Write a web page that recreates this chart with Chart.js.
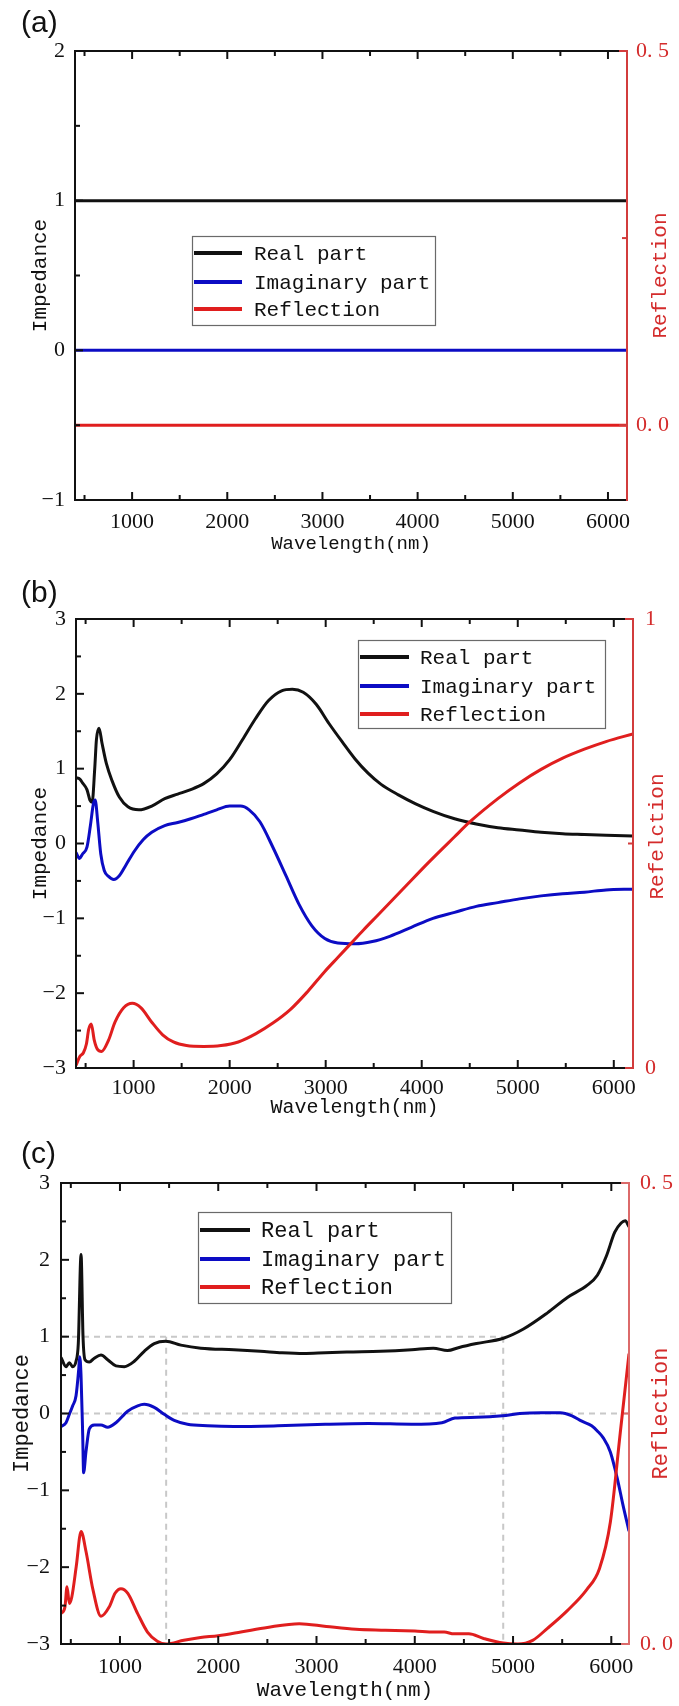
<!DOCTYPE html>
<html>
<head>
<meta charset="utf-8">
<title>Impedance and reflection</title>
<script src="https://cdn.jsdelivr.net/npm/chart.js@4.4.0/dist/chart.umd.min.js"></script>
<style>
    html, body { margin: 0; padding: 0; background: #fff; }
    .panel { position: absolute; left: 0; width: 679px; }
    .panel canvas { display: block; }
</style>
</head>
<body>
<div class="panel" style="top:0px"><canvas id="chartA" width="679" height="565"></canvas></div>
<div class="panel" style="top:565px"><canvas id="chartB" width="679" height="560"></canvas></div>
<div class="panel" style="top:1125px"><canvas id="chartC" width="679" height="581"></canvas></div>
<script>
// shared
const seriesNames = ['Real part', 'Imaginary part', 'Reflection'];
const xTicks = [1000, 2000, 3000, 4000, 5000, 6000];

// panel (a): ideal case, flat lines
const aWave = [400, 6200];
const aReal = [1, 1];
const aImag = [0, 0];
const aRefl = [0, 0];
const aImpTicks = [-1, 0, 1, 2];
const aReflTicks = [0, 0.5];
const aReflLabels = ['0. 0', '0. 5'];

// panel (b)
const bRealWave = [400, 440, 468, 514, 545, 568, 595, 613, 640, 671, 716, 775, 851, 941, 1054, 1189, 1324, 1459, 1595, 1730, 1865, 2000, 2135, 2270, 2405, 2541, 2653, 2766, 2901, 3036, 3171, 3306, 3441, 3577, 3757, 3937, 4117, 4342, 4568, 4793, 5018, 5243, 5468, 5694, 5919, 6200];
const bReal = [0.88, 0.86, 0.81, 0.72, 0.58, 0.55, 1.00, 1.39, 1.54, 1.34, 1.07, 0.84, 0.62, 0.49, 0.45, 0.50, 0.60, 0.66, 0.72, 0.80, 0.93, 1.12, 1.39, 1.67, 1.91, 2.04, 2.06, 2.02, 1.86, 1.60, 1.36, 1.13, 0.94, 0.79, 0.65, 0.53, 0.43, 0.33, 0.26, 0.21, 0.18, 0.15, 0.13, 0.12, 0.11, 0.10];
const bImagWave = [400, 436, 468, 514, 550, 581, 600, 626, 658, 694, 739, 793, 851, 919, 1009, 1099, 1189, 1324, 1459, 1595, 1730, 1865, 2000, 2113, 2203, 2315, 2450, 2586, 2721, 2856, 2991, 3126, 3306, 3486, 3667, 3892, 4117, 4342, 4568, 4793, 5018, 5243, 5468, 5694, 5919, 6200];
const bImag = [-0.12, -0.20, -0.14, -0.05, 0.24, 0.53, 0.58, 0.29, -0.14, -0.36, -0.44, -0.48, -0.43, -0.29, -0.10, 0.05, 0.15, 0.24, 0.28, 0.33, 0.39, 0.45, 0.50, 0.50, 0.45, 0.29, -0.05, -0.43, -0.81, -1.10, -1.27, -1.33, -1.34, -1.31, -1.24, -1.12, -1.00, -0.92, -0.84, -0.79, -0.74, -0.70, -0.67, -0.65, -0.62, -0.61];
const bReflWave = [400, 441, 477, 509, 532, 559, 590, 622, 667, 739, 806, 896, 986, 1077, 1189, 1302, 1414, 1550, 1730, 1910, 2090, 2270, 2450, 2631, 2811, 2991, 3126, 3261, 3396, 3532, 3802, 4072, 4342, 4500, 4793, 5018, 5243, 5468, 5694, 5919, 6200];
const bRefl = [0.006, 0.026, 0.034, 0.054, 0.086, 0.098, 0.062, 0.042, 0.037, 0.062, 0.102, 0.134, 0.144, 0.134, 0.102, 0.074, 0.058, 0.050, 0.048, 0.050, 0.058, 0.076, 0.100, 0.130, 0.170, 0.215, 0.246, 0.277, 0.308, 0.338, 0.398, 0.458, 0.515, 0.548, 0.600, 0.635, 0.665, 0.690, 0.710, 0.727, 0.744];
const bImpTicks = [-3, -2, -1, 0, 1, 2, 3];
const bReflTicks = [0, 1];
const bReflLabels = ['0', '1'];

// panel (c)
const cRealWave = [400, 451, 485, 519, 553, 576, 604, 624, 644, 688, 739, 807, 875, 959, 1044, 1146, 1247, 1349, 1467, 1620, 1823, 2159, 2429, 2649, 2869, 3089, 3309, 3652, 3968, 4188, 4333, 4452, 4628, 4902, 5106, 5350, 5553, 5756, 5858, 5950, 6035, 6100, 6142, 6180];
const cReal = [0.73, 0.61, 0.66, 0.61, 0.68, 0.91, 2.07, 1.00, 0.70, 0.67, 0.72, 0.76, 0.70, 0.62, 0.61, 0.68, 0.81, 0.91, 0.94, 0.89, 0.85, 0.83, 0.81, 0.79, 0.78, 0.79, 0.80, 0.81, 0.83, 0.85, 0.82, 0.86, 0.91, 0.98, 1.10, 1.31, 1.51, 1.67, 1.80, 2.05, 2.36, 2.48, 2.51, 2.43];
const cImagWave = [400, 451, 485, 519, 553, 580, 590, 604, 621, 630, 654, 688, 739, 807, 875, 959, 1078, 1180, 1247, 1349, 1450, 1552, 1687, 1890, 2159, 2605, 3089, 3529, 3968, 4276, 4408, 4628, 4892, 5068, 5290, 5480, 5600, 5700, 5800, 5860, 5920, 5990, 6060, 6120, 6180];
const cImag = [-0.17, -0.12, -0.01, 0.10, 0.23, 0.57, 0.74, 0.49, -0.29, -0.77, -0.50, -0.20, -0.15, -0.15, -0.18, -0.12, 0.03, 0.10, 0.12, 0.08, -0.01, -0.09, -0.14, -0.16, -0.17, -0.16, -0.14, -0.13, -0.14, -0.12, -0.06, -0.05, -0.03, 0.00, 0.01, 0.01, -0.03, -0.10, -0.16, -0.23, -0.32, -0.50, -0.84, -1.20, -1.53];
const cReflWave = [400, 440, 461, 485, 510, 555, 604, 655, 725, 807, 890, 950, 1010, 1080, 1180, 1280, 1380, 1470, 1650, 1820, 2000, 2230, 2500, 2825, 3100, 3400, 3700, 4000, 4200, 4300, 4400, 4550, 4700, 4900, 5050, 5200, 5350, 5550, 5750, 5880, 5990, 6090, 6180];
const cRefl = [0.033, 0.040, 0.062, 0.044, 0.051, 0.084, 0.122, 0.100, 0.059, 0.030, 0.040, 0.055, 0.060, 0.055, 0.033, 0.013, 0.003, 0.000, 0.004, 0.007, 0.009, 0.013, 0.018, 0.022, 0.019, 0.016, 0.015, 0.014, 0.013, 0.013, 0.011, 0.011, 0.006, 0.001, 0.000, 0.004, 0.017, 0.036, 0.059, 0.082, 0.132, 0.228, 0.315];
const cImpTicks = [-3, -2, -1, 0, 1, 2, 3];
const cReflTicks = [0, 0.5];
const cReflLabels = ['0. 0', '0. 5'];
// grey dashed guides in (c)
const cGuideOneX = [400, 4900];
const cGuideOneY = [1, 1];
const cGuideZeroX = [400, 6180];
const cGuideZeroY = [0, 0];
const cGuideLeftX = [1470, 1470];
const cGuideLeftY = [1, -3];
const cGuideRightX = [4900, 4900];
const cGuideRightY = [1, -3];

const MONO = '"Liberation Mono", "DejaVu Sans Mono", monospace';
const SERIF = '"Liberation Serif", "DejaVu Serif", serif';
const INK = '#111111';
const BLUE = '#0c0cc4';
const RED = '#e01e1e';
const RED_TEXT = '#d42c2c';

const pts = (xs, ys) => xs.map((x, i) => ({x: x, y: ys[i]}));

function curve(label, data, color, axis, order) {
    return {
        label: label,
        data: data,
        borderColor: color,
        backgroundColor: color,
        borderWidth: 3,
        pointRadius: 0,
        cubicInterpolationMode: 'monotone',
        yAxisID: axis,
        order: order
    };
}

function guide(data) {
    return {
        data: data,
        inLegend: false,
        borderColor: '#c8c8c8',
        borderWidth: 2,
        borderDash: [6, 5],
        pointRadius: 0,
        tension: 0,
        yAxisID: 'y',
        order: 5
    };
}

// frame, inward ticks, right title, legend box and panel letter
function framePlugin(p) {
    return {
        id: 'frame' + p.label,
        afterDatasetsDraw(chart) {
            const ctx = chart.ctx;
            const a = chart.chartArea;
            const sx = chart.scales.x, sy = chart.scales.y, sr = chart.scales.y1;

            const line = (x1, y1, x2, y2) => {
                ctx.beginPath();
                ctx.moveTo(x1, y1);
                ctx.lineTo(x2, y2);
                ctx.stroke();
            };
            const minors = (scale, step) => {
                const majors = scale.ticks.map(t => t.value);
                const out = [];
                for (let k = Math.ceil(scale.min / step - 1e-9); k * step <= scale.max + 1e-9; k++) {
                    const v = k * step;
                    if (!majors.some(m => Math.abs(m - v) < step * 1e-3)) out.push(v);
                }
                return out;
            };

            ctx.save();
            ctx.lineCap = 'butt';

            // black frame: top, left, bottom
            ctx.strokeStyle = INK;
            ctx.lineWidth = 2;
            ctx.beginPath();
            ctx.moveTo(a.right, a.top);
            ctx.lineTo(a.left, a.top);
            ctx.lineTo(a.left, a.bottom);
            ctx.lineTo(a.right, a.bottom);
            ctx.stroke();

            // x ticks top and bottom
            sx.ticks.forEach(t => {
                const x = sx.getPixelForValue(t.value);
                line(x, a.bottom, x, a.bottom - 8);
                line(x, a.top, x, a.top + 8);
            });
            minors(sx, p.xMinor).forEach(v => {
                const x = sx.getPixelForValue(v);
                line(x, a.bottom, x, a.bottom - 5);
                line(x, a.top, x, a.top + 5);
            });
            // left ticks
            sy.ticks.forEach(t => {
                const y = sy.getPixelForValue(t.value);
                line(a.left, y, a.left + 8, y);
            });
            minors(sy, p.yMinor).forEach(v => {
                const y = sy.getPixelForValue(v);
                line(a.left, y, a.left + 5, y);
            });

            // red right axis
            ctx.strokeStyle = p.rightAxisColor;
            ctx.lineWidth = 2;
            line(a.right, a.top - 1, a.right, a.bottom + 1);
            sr.ticks.forEach(t => {
                const y = sr.getPixelForValue(t.value);
                line(a.right, y, a.right - 8, y);
            });
            minors(sr, p.y1Minor).forEach(v => {
                const y = sr.getPixelForValue(v);
                line(a.right, y, a.right - 5, y);
            });

            // right title, reading bottom to top like the left one
            ctx.save();
            ctx.translate(p.y1TitleX, (a.top + a.bottom) / 2 + p.y1TitleShift);
            ctx.rotate(-Math.PI / 2);
            ctx.font = p.y1TitleSize + 'px ' + MONO;
            ctx.fillStyle = RED_TEXT;
            ctx.textAlign = 'center';
            ctx.textBaseline = 'middle';
            ctx.fillText(p.y1Title, 0, 0);
            ctx.restore();

            // legend
            const L = p.legend;
            ctx.fillStyle = '#fff';
            ctx.fillRect(L.x, L.y, L.w, L.h);
            ctx.strokeStyle = '#6a6a6a';
            ctx.lineWidth = 1.2;
            ctx.strokeRect(L.x + 0.5, L.y + 0.5, L.w, L.h);
            ctx.font = L.size + 'px ' + MONO;
            ctx.textBaseline = 'middle';
            ctx.textAlign = 'left';
            const items = chart.data.datasets.filter(ds => ds.inLegend !== false);
            items.forEach((ds, i) => {
                const y = L.rows[i];
                ctx.strokeStyle = ds.borderColor;
                ctx.lineWidth = 4;
                line(L.x1, y, L.x2, y);
                ctx.fillStyle = INK;
                ctx.fillText(ds.label, L.tx, y + 1);
            });

            // panel letter
            ctx.font = '30px "Liberation Sans", Arial, sans-serif';
            ctx.fillStyle = INK;
            ctx.textBaseline = 'middle';
            ctx.textAlign = 'left';
            ctx.fillText(p.label, 21, p.labelY);
            ctx.restore();
        }
    };
}

function makePanel(canvasId, p, datasets) {
    return new Chart(document.getElementById(canvasId), {
        type: 'line',
        data: { datasets: datasets },
        plugins: [framePlugin(p)],
        options: {
            responsive: false,
            animation: false,
            devicePixelRatio: 1,
            layout: { padding: { top: p.padTop, left: 0, right: 0, bottom: 0 } },
            plugins: {
                legend: { display: false },
                tooltip: { enabled: false }
            },
            scales: {
                x: {
                    type: 'linear',
                    min: p.xMin,
                    max: p.xMax,
                    afterBuildTicks: s => { s.ticks = xTicks.map(v => ({value: v})); },
                    afterFit: s => { s.height = p.bottomH; },
                    grid: { display: false, drawTicks: false },
                    border: { display: false },
                    ticks: {
                        color: INK,
                        padding: p.xTickPad,
                        maxRotation: 0,
                        autoSkip: false,
                        font: { family: SERIF, size: 22 },
                        callback: v => String(v)
                    },
                    title: {
                        display: true,
                        text: 'Wavelength(nm)',
                        color: INK,
                        font: { family: MONO, size: p.xTitleSize, lineHeight: 1.2 },
                        padding: { top: 0, bottom: p.xTitlePad }
                    }
                },
                y: {
                    type: 'linear',
                    position: 'left',
                    min: p.yMin,
                    max: p.yMax,
                    afterBuildTicks: s => { s.ticks = p.yTicks.map(v => ({value: v})); },
                    afterFit: s => { s.width = p.leftW; },
                    grid: { display: false, drawTicks: false },
                    border: { display: false },
                    ticks: {
                        color: INK,
                        padding: p.yTickPad,
                        font: { family: SERIF, size: 22 },
                        callback: v => String(v).replace('-', '\u2212')
                    },
                    title: {
                        display: true,
                        text: 'Impedance',
                        color: INK,
                        font: { family: MONO, size: p.yTitleSize, lineHeight: 1.2 },
                        padding: { top: p.yTitlePad, bottom: 0 }
                    }
                },
                y1: {
                    type: 'linear',
                    position: 'right',
                    min: p.y1Min,
                    max: p.y1Max,
                    afterBuildTicks: s => { s.ticks = p.y1Ticks.map(v => ({value: v})); },
                    afterFit: s => { s.width = p.rightW; },
                    grid: { display: false, drawTicks: false, drawOnChartArea: false },
                    border: { display: false },
                    ticks: {
                        color: RED_TEXT,
                        padding: p.y1TickPad,
                        font: { family: SERIF, size: 22 },
                        callback: (v, i) => p.y1Labels[i]
                    },
                    title: { display: false }
                }
            }
        }
    });
}

makePanel('chartA', {
    label: '(a)', labelY: 24,
    padTop: 51, leftW: 75, rightW: 52, bottomH: 65,
    xMin: 400, xMax: 6200, xMinor: 500, xTickPad: 9, xTitleSize: 19, xTitlePad: 10,
    yMin: -1, yMax: 2, yTicks: aImpTicks, yMinor: 0.5, yTickPad: 10, yTitleSize: 21, yTitlePad: 28,
    y1Min: -0.1, y1Max: 0.5, y1Ticks: aReflTicks, y1Labels: aReflLabels, y1Minor: 0.25, y1TickPad: 9,
    y1Title: 'Reflection', y1TitleSize: 21, y1TitleX: 660, y1TitleShift: 0,
    rightAxisColor: '#d23c3c',
    legend: { x: 192, y: 236, w: 243, h: 89, x1: 194, x2: 242, tx: 254, rows: [253, 282, 309], size: 21 }
}, [
    curve(seriesNames[0], pts(aWave, aReal), INK, 'y', 2),
    curve(seriesNames[1], pts(aWave, aImag), BLUE, 'y', 1),
    curve(seriesNames[2], pts(aWave, aRefl), RED, 'y1', 0)
]);

makePanel('chartB', {
    label: '(b)', labelY: 29,
    padTop: 54, leftW: 76, rightW: 46, bottomH: 57,
    xMin: 400, xMax: 6200, xMinor: 500, xTickPad: 7, xTitleSize: 20, xTitlePad: 5,
    yMin: -3, yMax: 3, yTicks: bImpTicks, yMinor: 0.5, yTickPad: 10, yTitleSize: 21, yTitlePad: 28,
    y1Min: 0, y1Max: 1, y1Ticks: bReflTicks, y1Labels: bReflLabels, y1Minor: 0.5, y1TickPad: 12,
    y1Title: 'Refelction', y1TitleSize: 21, y1TitleX: 657, y1TitleShift: -7,
    rightAxisColor: '#d23c3c',
    legend: { x: 358, y: 75, w: 247, h: 88, x1: 360, x2: 409, tx: 420, rows: [92, 121, 149], size: 21 }
}, [
    curve(seriesNames[0], pts(bRealWave, bReal), INK, 'y', 2),
    curve(seriesNames[1], pts(bImagWave, bImag), BLUE, 'y', 1),
    curve(seriesNames[2], pts(bReflWave, bRefl), RED, 'y1', 0)
]);

makePanel('chartC', {
    label: '(c)', labelY: 30,
    padTop: 58, leftW: 61, rightW: 50, bottomH: 62,
    xMin: 400, xMax: 6180, xMinor: 500, xTickPad: 10, xTitleSize: 21, xTitlePad: 3,
    yMin: -3, yMax: 3, yTicks: cImpTicks, yMinor: 0.5, yTickPad: 11, yTitleSize: 22, yTitlePad: 9,
    y1Min: 0, y1Max: 0.5, y1Ticks: cReflTicks, y1Labels: cReflLabels, y1Minor: 0.25, y1TickPad: 11,
    y1Title: 'Reflection', y1TitleSize: 22, y1TitleX: 661, y1TitleShift: 0,
    rightAxisColor: '#dc6a6a',
    legend: { x: 198, y: 87, w: 253, h: 91, x1: 200, x2: 250, tx: 261, rows: [105, 134, 162], size: 22 }
}, [
    curve(seriesNames[0], pts(cRealWave, cReal), INK, 'y', 2),
    curve(seriesNames[1], pts(cImagWave, cImag), BLUE, 'y', 1),
    curve(seriesNames[2], pts(cReflWave, cRefl), RED, 'y1', 0),
    guide(pts(cGuideOneX, cGuideOneY)),
    guide(pts(cGuideZeroX, cGuideZeroY)),
    guide(pts(cGuideLeftX, cGuideLeftY)),
    guide(pts(cGuideRightX, cGuideRightY))
]);
</script>
</body>
</html>
